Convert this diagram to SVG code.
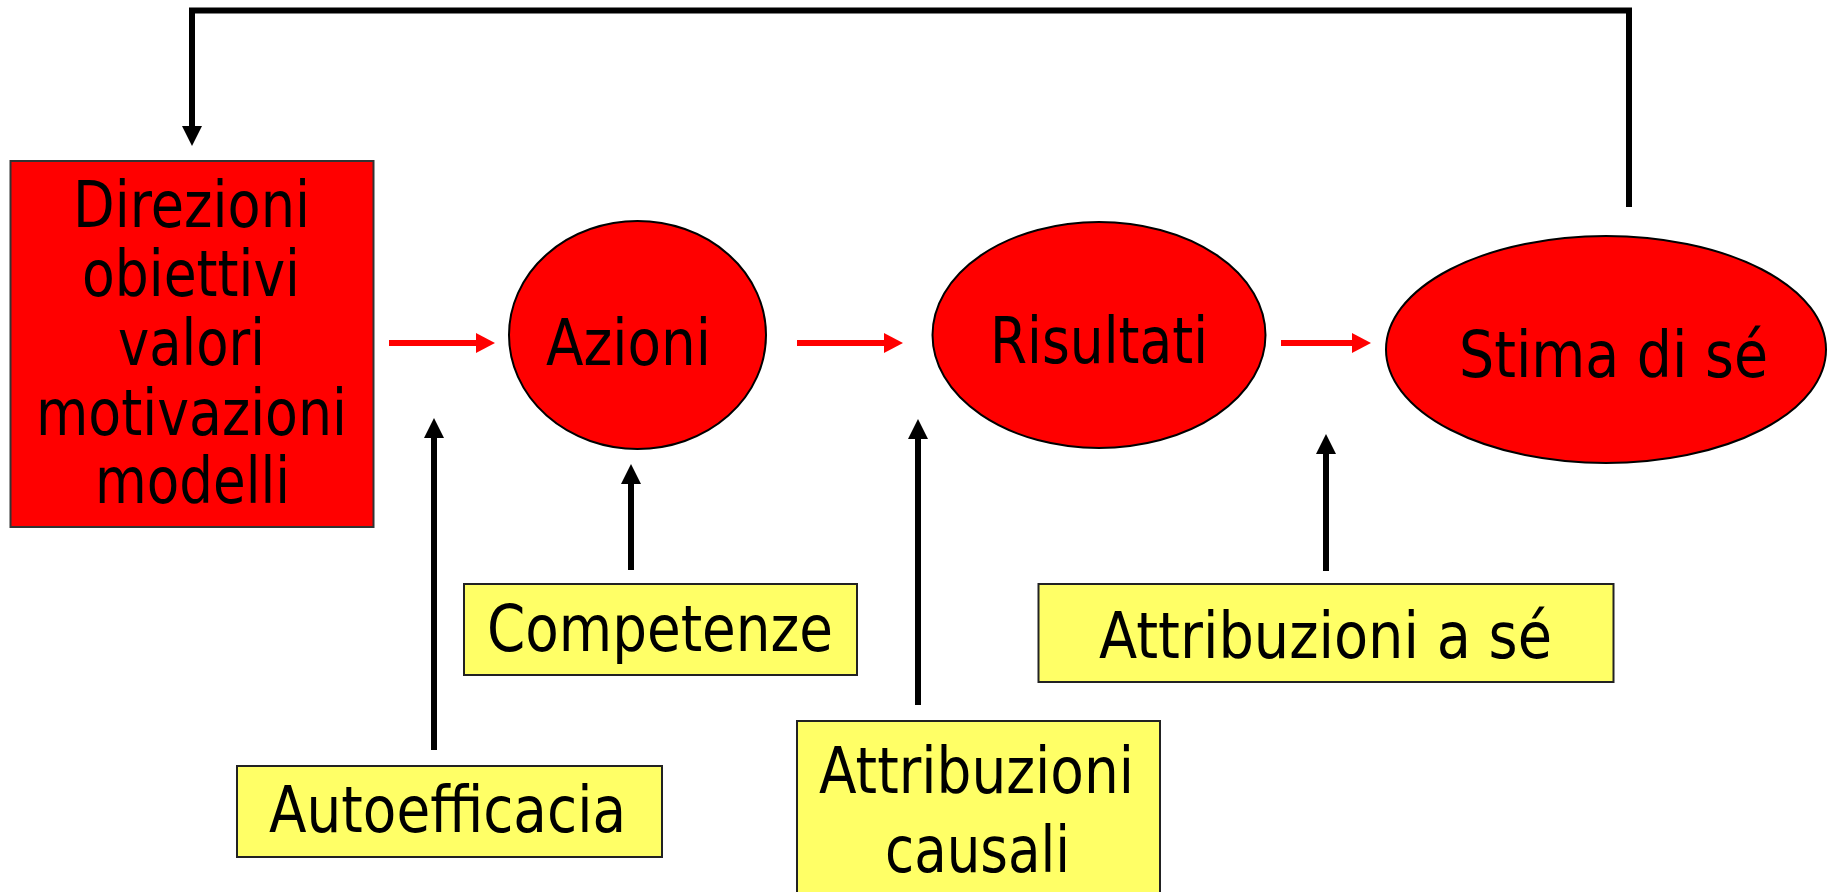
<svg xmlns="http://www.w3.org/2000/svg" width="1834" height="892" viewBox="0 0 1834 892">
<style>
.red{fill:#FF0000;stroke:#000;stroke-width:2}
.box{fill:#FF0000;stroke:#333;stroke-width:2}
.yel{fill:#FFFF66;stroke:#222;stroke-width:2}
text{font-family:"DejaVu Sans","Verdana",sans-serif;font-size:64px;fill:#000}
.blk{stroke:#000;stroke-width:6;fill:none;marker-end:url(#hb)}
.rln{stroke:#FF0000;stroke-width:6;fill:none;marker-end:url(#hr)}
</style>
<defs>
<marker id="hb" markerUnits="userSpaceOnUse" markerWidth="20" markerHeight="20" refX="0" refY="10" orient="auto" overflow="visible">
<path d="M0,0 L20,10 L0,20 z" fill="#000"/>
</marker>
<marker id="hr" markerUnits="userSpaceOnUse" markerWidth="19" markerHeight="20" refX="0" refY="10" orient="auto" overflow="visible">
<path d="M0,0 L19,10 L0,20 z" fill="#FF0000"/>
</marker>
</defs>
<rect width="1834" height="892" fill="#fff"/>
<g id="connectors">
<path class="blk" d="M1629,207 L1629,10.5 L192,10.5 L192,126" stroke-linejoin="miter"/>
<line class="rln" x1="389" y1="343" x2="476" y2="343"/>
<line class="rln" x1="797" y1="343" x2="884" y2="343"/>
<line class="rln" x1="1281" y1="343" x2="1352" y2="343"/>
<line class="blk" x1="434" y1="750" x2="434" y2="438"/>
<line class="blk" x1="631" y1="570" x2="631" y2="484"/>
<line class="blk" x1="918" y1="705" x2="918" y2="439"/>
<line class="blk" x1="1326" y1="571" x2="1326" y2="454"/>
</g>
<g id="direzioni">
<rect class="box" x="10.5" y="161" width="363" height="366"/>
<text x="73" y="227" textLength="237" lengthAdjust="spacingAndGlyphs">Direzioni</text>
<text x="82" y="296" textLength="218" lengthAdjust="spacingAndGlyphs">obiettivi</text>
<text x="118" y="365" textLength="147" lengthAdjust="spacingAndGlyphs">valori</text>
<text x="36" y="435" textLength="311" lengthAdjust="spacingAndGlyphs">motivazioni</text>
<text x="95" y="503" textLength="195" lengthAdjust="spacingAndGlyphs">modelli</text>
</g>
<g id="azioni">
<ellipse class="red" cx="637.5" cy="335" rx="128.5" ry="114"/>
<text x="546" y="365" textLength="165" lengthAdjust="spacingAndGlyphs">Azioni</text>
</g>
<g id="risultati">
<ellipse class="red" cx="1099" cy="335" rx="166.5" ry="113"/>
<text x="990" y="363" textLength="218" lengthAdjust="spacingAndGlyphs">Risultati</text>
</g>
<g id="stima">
<ellipse class="red" cx="1606" cy="349.5" rx="220" ry="113.5"/>
<text x="1459" y="377" textLength="309" lengthAdjust="spacingAndGlyphs">Stima di sé</text>
</g>
<g id="competenze">
<rect class="yel" x="464" y="584" width="393" height="91"/>
<text x="487" y="651" textLength="346" lengthAdjust="spacingAndGlyphs">Competenze</text>
</g>
<g id="autoefficacia">
<rect class="yel" x="237" y="766" width="425" height="91"/>
<text x="269" y="832" textLength="357" lengthAdjust="spacingAndGlyphs">Autoefficacia</text>
</g>
<g id="attribuzioni-causali">
<rect class="yel" x="797" y="721" width="363" height="200"/>
<text x="819" y="793" textLength="315" lengthAdjust="spacingAndGlyphs">Attribuzioni</text>
<text x="885" y="872" textLength="185" lengthAdjust="spacingAndGlyphs">causali</text>
</g>
<g id="attribuzioni-se">
<rect class="yel" x="1038.5" y="584" width="575" height="98"/>
<text x="1099" y="658" textLength="453" lengthAdjust="spacingAndGlyphs">Attribuzioni a sé</text>
</g>
</svg>
